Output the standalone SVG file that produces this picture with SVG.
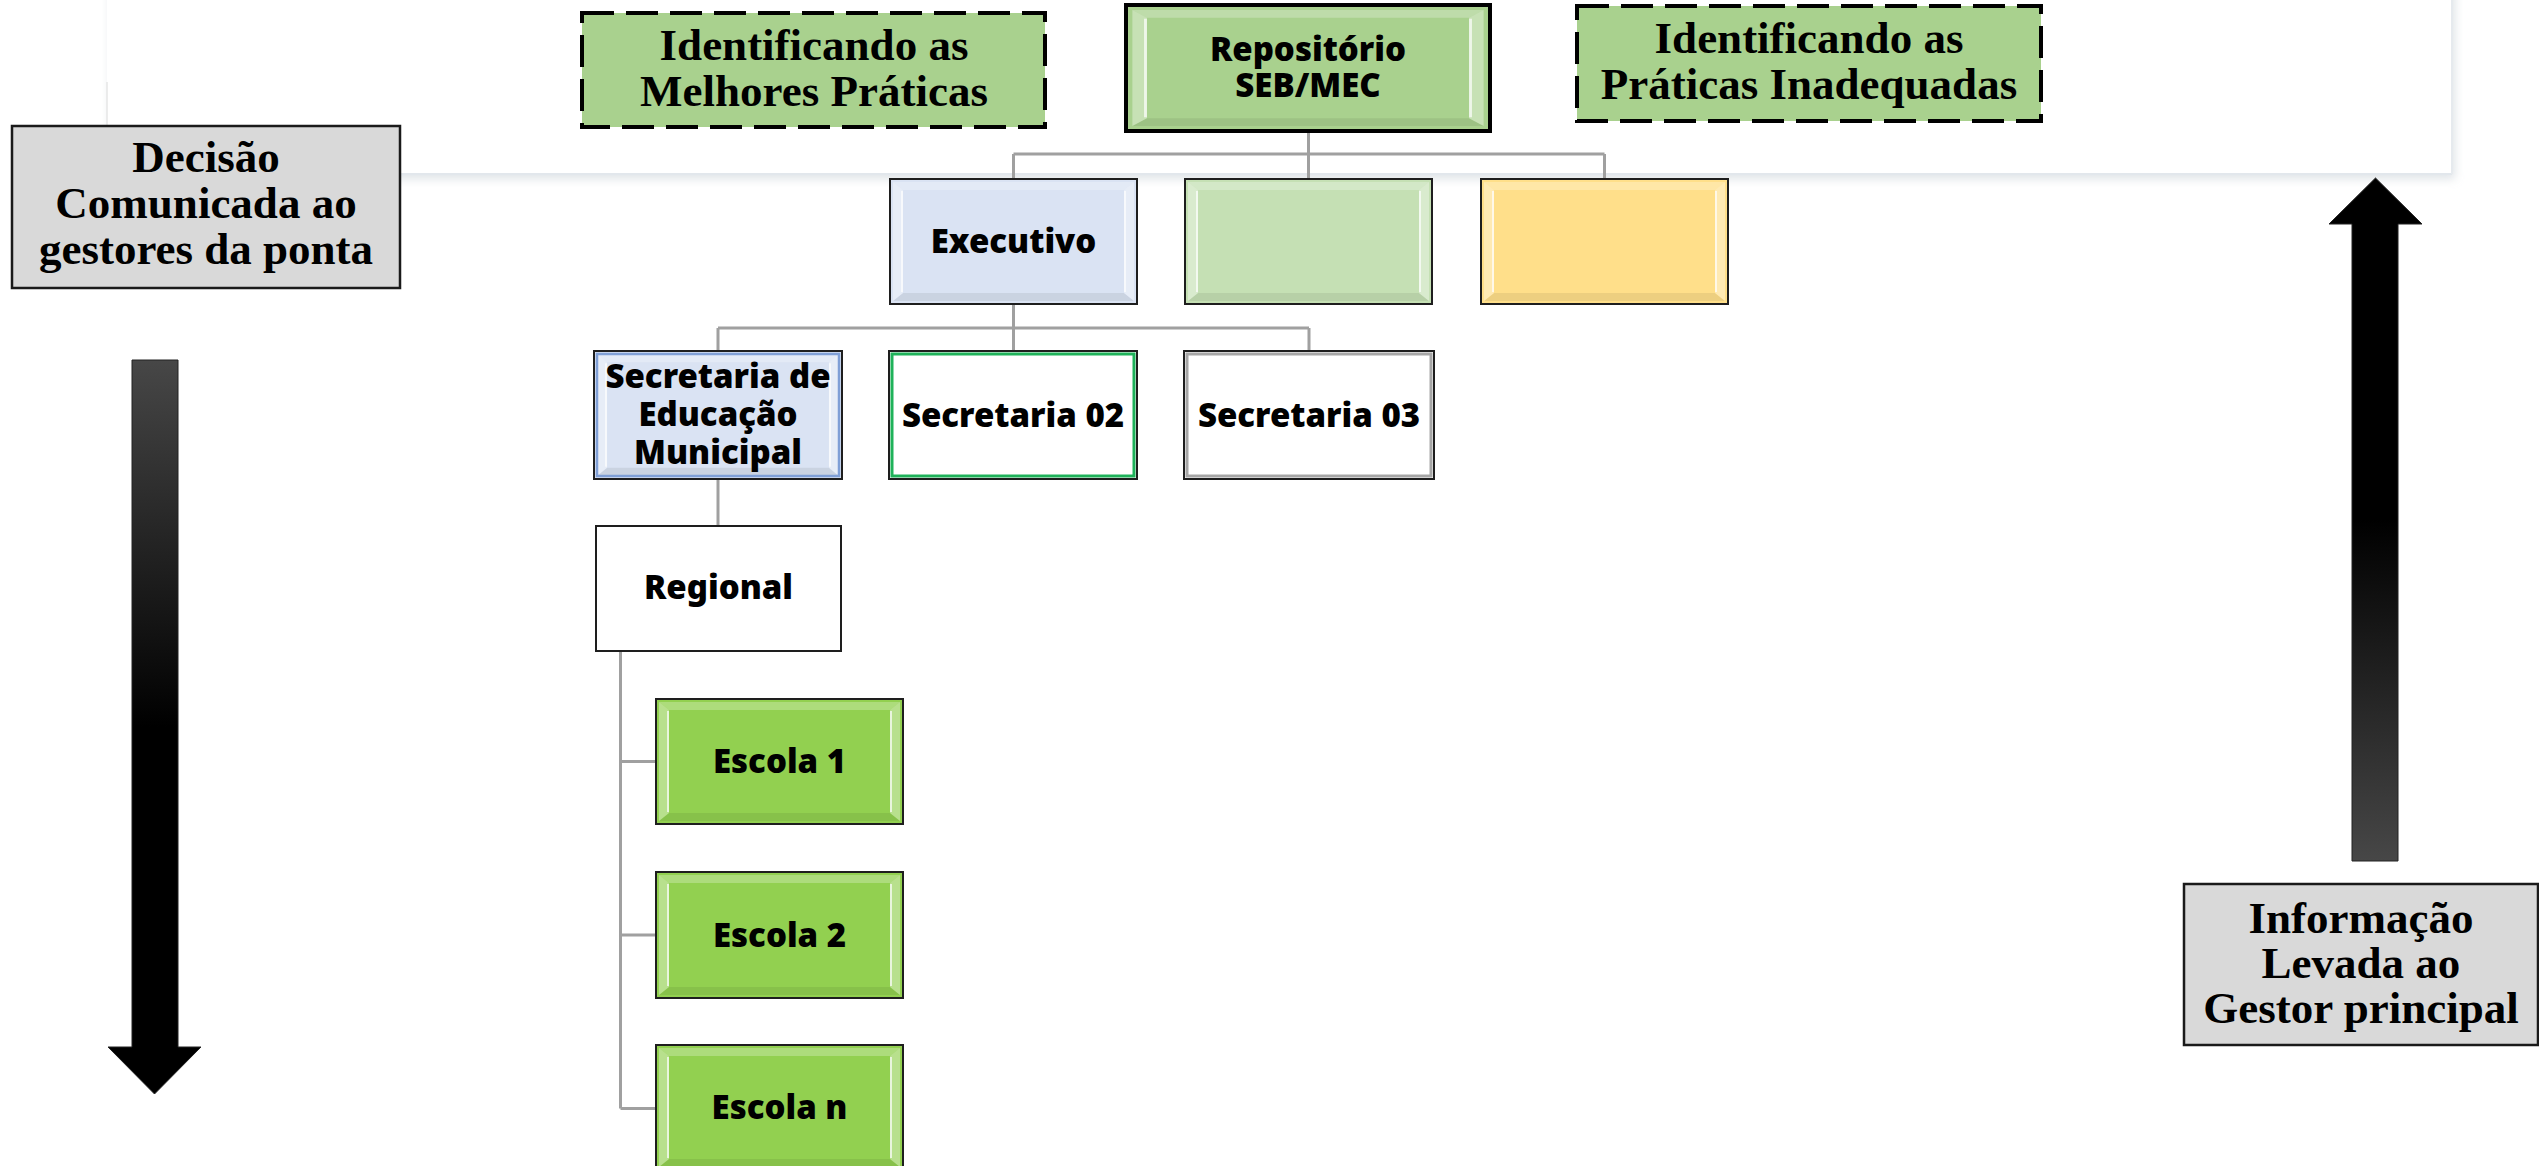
<svg xmlns="http://www.w3.org/2000/svg" xmlns:xlink="http://www.w3.org/1999/xlink" width="2539" height="1166" viewBox="0 0 2539 1166">
<style>
.serif{font-family:"Liberation Serif","Times New Roman",serif;font-weight:bold;font-size:45px;fill:#000;text-anchor:middle}
.sans{font-family:"Noto Sans","Open Sans",sans-serif;font-weight:900;font-size:33px;fill:#000;text-anchor:middle}
.box{stroke:#1e1e1e;stroke-width:2}
.conn{stroke:#a0a0a0;stroke-width:3;fill:none}
.dash{fill:#a9d18e;stroke:#000;stroke-width:4;stroke-dasharray:32 12}
.gray{fill:#d9d9d9;stroke:#1a1a1a;stroke-width:2.5}
</style>
<defs>
<filter id="sh" x="-5%" y="-20%" width="110%" height="150%">
<feDropShadow dx="3" dy="5" stdDeviation="5" flood-color="#b8c2cc" flood-opacity="0.45"/>
</filter>
<linearGradient id="gDown" gradientUnits="userSpaceOnUse" x1="0" y1="360" x2="0" y2="1094">
<stop offset="0" stop-color="#474747"/><stop offset="0.5" stop-color="#000"/><stop offset="1" stop-color="#000"/>
</linearGradient>
<linearGradient id="gUp" gradientUnits="userSpaceOnUse" x1="0" y1="861" x2="0" y2="178">
<stop offset="0" stop-color="#474747"/><stop offset="0.5" stop-color="#000"/><stop offset="1" stop-color="#000"/>
</linearGradient>
<symbol id="bev" viewBox="0 0 247 125" preserveAspectRatio="none">
<polygon points="3,3 244,3 234,11 13,11" fill="#fff" opacity="0.25"/>
<polygon points="3,122 244,122 234,114 13,114" fill="#000" opacity="0.07"/>
<polygon points="3,3 13,11 13,114 3,122" fill="#fff" opacity="0.35"/>
<polygon points="244,3 234,11 234,114 244,122" fill="#fff" opacity="0.35"/>
<line x1="12" y1="12" x2="12" y2="113" stroke="#fff" stroke-width="2" opacity="0.7"/>
<line x1="235" y1="12" x2="235" y2="113" stroke="#fff" stroke-width="2" opacity="0.7"/>
</symbol>
</defs>

<rect width="2539" height="1166" fill="#fff"/>

<g id="panel">
<rect x="107" y="-20" width="2345" height="194" fill="#fff" filter="url(#sh)"/>
<line x1="107" y1="174" x2="2452" y2="174" stroke="#e2e7ec" stroke-width="2"/>
<line x1="2452" y1="0" x2="2452" y2="174" stroke="#e6eaee" stroke-width="2"/>
<line x1="107" y1="82" x2="107" y2="126" stroke="#e6e6e6" stroke-width="1.5"/>
</g>

<g id="arrow-down">
<path d="M132,360 H178 V1047 H201 L154.5,1094 L108,1047 H132 Z" fill="url(#gDown)" stroke="#222" stroke-width="1"/>
</g>
<g id="arrow-up">
<path d="M2352,861 V224 H2329 L2375.5,178 L2422,224 H2398 V861 Z" fill="url(#gUp)" stroke="#222" stroke-width="1"/>
</g>

<g id="connectors">
<path class="conn" d="M1308.5,132 V154 M1013.5,154 H1604.5 M1013.5,154 V179 M1308.5,154 V179 M1604.5,154 V179"/>
<path class="conn" d="M1013.5,304 V328 M718,328 H1309 M718,328 V351 M1013.5,328 V351 M1309,328 V351"/>
<path class="conn" d="M718,479 V526"/>
<path class="conn" d="M620.5,651 V1108.5 M620.5,761.5 H656 M620.5,935 H656 M620.5,1108.5 H656"/>
</g>

<g id="decisao">
<rect class="gray" x="12" y="126" width="388" height="162"/>
<text class="serif" x="206" y="172">Decisão</text>
<text class="serif" x="206" y="218">Comunicada ao</text>
<text class="serif" x="206" y="264">gestores da ponta</text>
</g>

<g id="informacao">
<rect class="gray" x="2184" y="884" width="354" height="161"/>
<text class="serif" x="2361" y="933">Informação</text>
<text class="serif" x="2361" y="978">Levada ao</text>
<text class="serif" x="2361" y="1023">Gestor principal</text>
</g>

<g id="melhores">
<rect class="dash" x="582" y="13" width="463" height="114"/>
<text class="serif" x="814" y="60">Identificando as</text>
<text class="serif" x="814" y="106">Melhores Práticas</text>
</g>

<g id="inadequadas">
<rect class="dash" x="1577" y="6" width="464" height="115"/>
<text class="serif" x="1809" y="53">Identificando as</text>
<text class="serif" x="1809" y="99">Práticas Inadequadas</text>
</g>

<g id="repositorio">
<rect x="1126" y="5" width="364" height="126" fill="#a9d18e" stroke="#000" stroke-width="4"/>
<use xlink:href="#bev" x="1128" y="7" width="360" height="122"/>
<text class="sans" x="1308" y="61">Repositório</text>
<text class="sans" x="1308" y="97">SEB/MEC</text>
</g>

<g id="executivo">
<rect class="box" x="890" y="179" width="247" height="125" fill="#dae3f3"/>
<use xlink:href="#bev" x="890" y="179" width="247" height="125"/>
<text class="sans" x="1013.5" y="253">Executivo</text>
</g>

<g id="verde">
<rect class="box" x="1185" y="179" width="247" height="125" fill="#c5e0b4"/>
<use xlink:href="#bev" x="1185" y="179" width="247" height="125"/>
</g>

<g id="amarelo">
<rect class="box" x="1481" y="179" width="247" height="125" fill="#ffdf8a"/>
<use xlink:href="#bev" x="1481" y="179" width="247" height="125"/>
</g>

<g id="sec-educacao">
<rect class="box" x="594" y="351" width="248" height="128" fill="#dae3f3"/>
<use xlink:href="#bev" x="594" y="351" width="248" height="128"/>
<rect x="597" y="354" width="242" height="122" fill="none" stroke="#7f9fd6" stroke-width="2.5"/>
<text class="sans" x="718" y="388">Secretaria de</text>
<text class="sans" x="718" y="426">Educação</text>
<text class="sans" x="718" y="464">Municipal</text>
</g>

<g id="sec-02">
<rect class="box" x="889" y="351" width="248" height="128" fill="#fff"/>
<rect x="892" y="354" width="242" height="122" fill="none" stroke="#1fb25a" stroke-width="3"/>
<text class="sans" x="1013" y="427">Secretaria 02</text>
</g>

<g id="sec-03">
<rect class="box" x="1184" y="351" width="250" height="128" fill="#fff"/>
<rect x="1187" y="354" width="244" height="122" fill="none" stroke="#a6a6a6" stroke-width="3"/>
<text class="sans" x="1309" y="427">Secretaria 03</text>
</g>

<g id="regional">
<rect class="box" x="596" y="526" width="245" height="125" fill="#fff"/>
<text class="sans" x="718.5" y="599">Regional</text>
</g>

<g id="escola-1">
<rect class="box" x="656" y="699" width="247" height="125" fill="#92d050"/>
<use xlink:href="#bev" x="656" y="699" width="247" height="125"/>
<text class="sans" x="779.5" y="773">Escola 1</text>
</g>

<g id="escola-2">
<rect class="box" x="656" y="872" width="247" height="126" fill="#92d050"/>
<use xlink:href="#bev" x="656" y="872" width="247" height="126"/>
<text class="sans" x="779.5" y="947">Escola 2</text>
</g>

<g id="escola-n">
<rect class="box" x="656" y="1045" width="247" height="125" fill="#92d050"/>
<use xlink:href="#bev" x="656" y="1045" width="247" height="125"/>
<text class="sans" x="779.5" y="1119">Escola n</text>
</g>
</svg>
